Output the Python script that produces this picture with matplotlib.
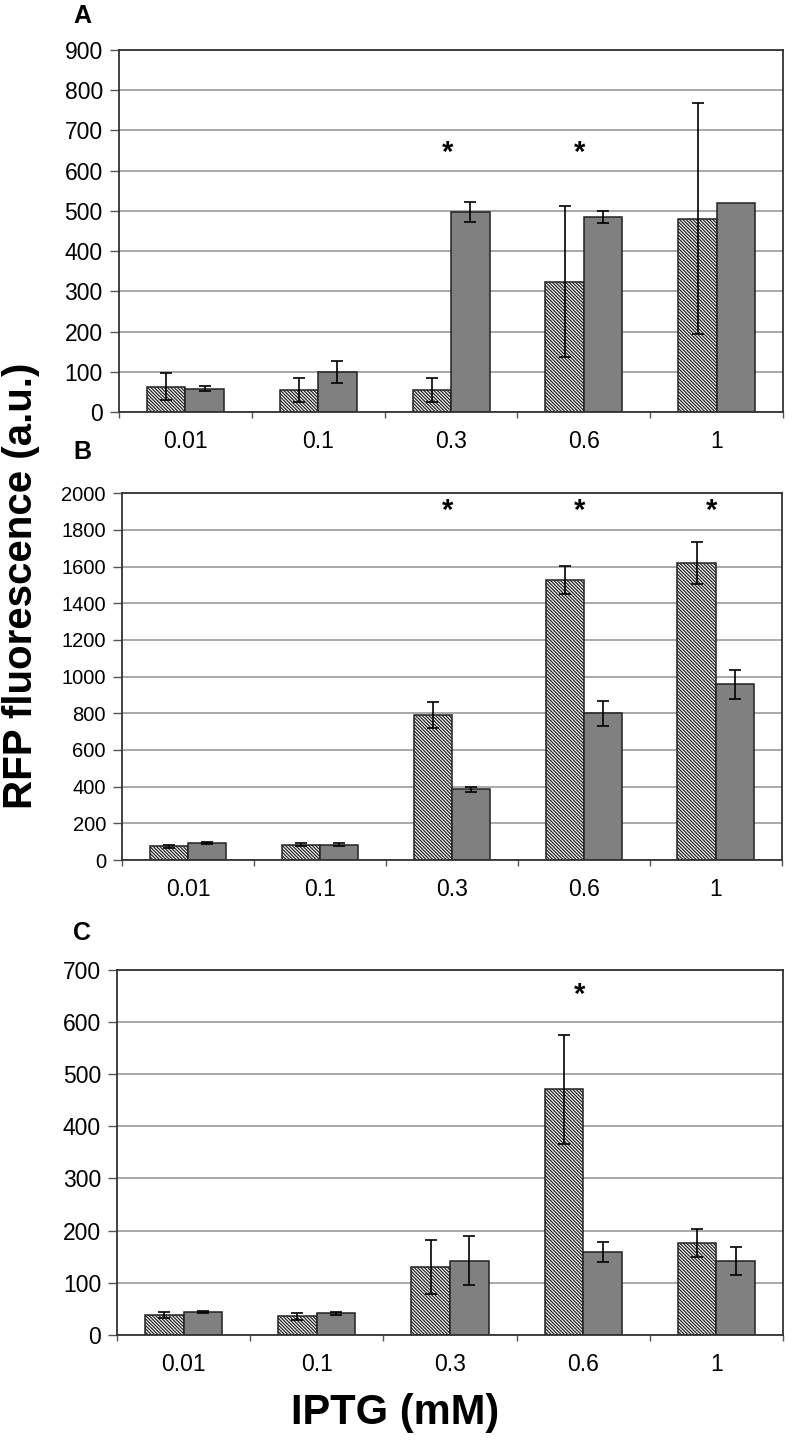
import matplotlib
matplotlib.use("Agg")
import matplotlib.pyplot as plt
import numpy as np

plt.rcParams['font.family'] = ['Liberation Sans', 'DejaVu Sans']
plt.rcParams['hatch.linewidth'] = 0.9

iptg = ['0.01', '0.1', '0.3', '0.6', '1']

# panel A
a_hatch = [63, 55, 55, 324, 481]
a_hatch_err = [33, 30, 30, 187, 287]
a_solid = [58, 100, 498, 484, 520]
a_solid_err = [6, 27, 25, 15, 0]
a_star = [0, 0, 1, 1, 0]

# panel B
b_hatch = [76, 84, 791, 1527, 1622]
b_hatch_err = [8, 10, 72, 75, 115]
b_solid = [91, 84, 385, 800, 958]
b_solid_err = [5, 10, 15, 68, 80]
b_star = [0, 0, 1, 1, 1]

# panel C
c_hatch = [38, 35, 130, 471, 176]
c_hatch_err = [5, 6, 52, 104, 26]
c_solid = [44, 41, 142, 159, 142]
c_solid_err = [2, 3, 47, 19, 27]
c_star = [0, 0, 0, 1, 0]

panels = [
    ('A', [0.150, 0.7143, 0.839, 0.2510], 0.989, a_hatch, a_hatch_err, a_solid, a_solid_err, a_star, 900, 100, 645, 16.5),
    ('B', [0.154, 0.4036, 0.833, 0.2543], 0.6865, b_hatch, b_hatch_err, b_solid, b_solid_err, b_star, 2000, 200, 1903, 14.5),
    ('C', [0.1477, 0.0744, 0.841, 0.2529], 0.353, c_hatch, c_hatch_err, c_solid, c_solid_err, c_star, 700, 100, 653, 16.5),
]

fig = plt.figure(figsize=(7.92, 14.42), dpi=100)
x = np.arange(len(iptg))
w = 0.29
edge = '#222222'


def draw_err(ax, xs, vals, errs):
    # skip bars without an error estimate
    keep = [i for i, e in enumerate(errs) if e > 0]
    ax.errorbar([xs[i] for i in keep], [vals[i] for i in keep], yerr=[errs[i] for i in keep],
                fmt='none', ecolor='black', elinewidth=1.2, capsize=4.3, capthick=1.2, zorder=3)


for letter, rect, ly, hv, he, sv, se, star, ymax, ystep, stary, fs in panels:
    ax = fig.add_axes(rect)
    ax.bar(x - w / 2, hv, w, color='white', edgecolor=edge, hatch='\\' * 10, linewidth=1.1, zorder=2)
    ax.bar(x + w / 2, sv, w, color='#808080', edgecolor=edge, linewidth=1.1, zorder=2)
    draw_err(ax, x - w / 2, hv, he)
    draw_err(ax, x + w / 2, sv, se)
    for i, s in enumerate(star):
        if s:
            ax.text(x[i] - 0.03, stary, '*', ha='center', va='center', fontsize=21, fontweight='bold')

    ax.set_xlim(-0.5, len(iptg) - 0.5)
    ax.set_ylim(0, ymax)
    ax.set_yticks(np.arange(0, ymax + 1, ystep))
    ax.yaxis.grid(True, color='#9a9a9a', linewidth=1.2)
    ax.set_axisbelow(True)
    ax.set_xticks(x)
    ax.set_xticklabels(iptg)
    ax.set_xticks(np.arange(-0.5, len(iptg)), minor=True)
    ax.tick_params(axis='x', which='major', length=0, pad=13, labelsize=16.5)
    ax.tick_params(axis='x', which='minor', length=4.5, width=1, color='#555555', direction='out')
    ax.tick_params(axis='y', length=6.5, width=1, color='#555555', pad=5, labelsize=fs)
    for sp in ax.spines.values():
        sp.set_color('#333333')
        sp.set_linewidth(1.3)

    fig.text(0.1035, ly, letter, ha='center', va='center', fontsize=18, fontweight='bold')

fig.text(0.027, 0.594, 'RFP fluorescence (a.u.)', rotation=90, ha='center', va='center',
         fontsize=29, fontweight='bold')
fig.text(0.499, 0.02, 'IPTG (mM)', ha='center', va='center', fontsize=30, fontweight='bold')

fig.savefig('out.png', dpi=100)
